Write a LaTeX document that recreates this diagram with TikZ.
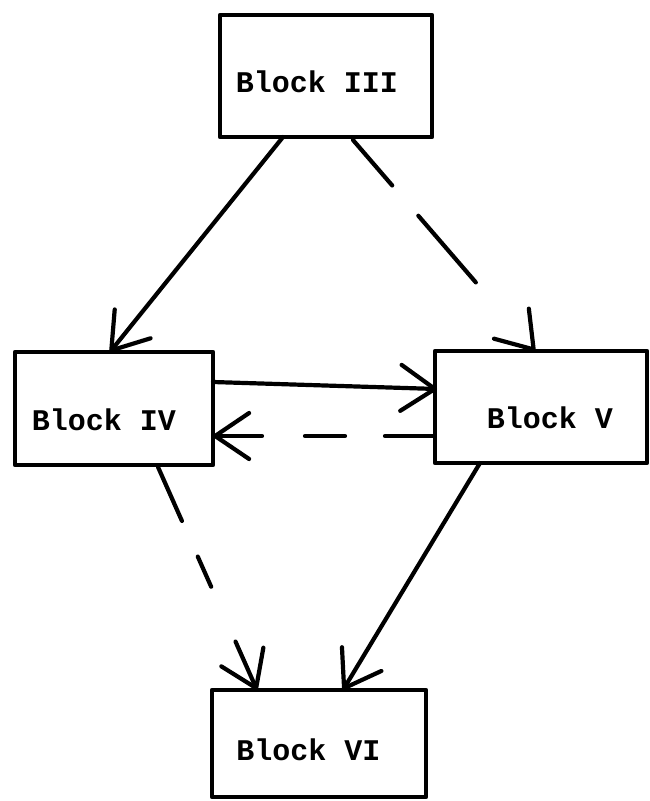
\documentclass[tikz,border=0pt]{standalone}
\usepackage{fontspec}
\setmainfont{Liberation Mono}
\usetikzlibrary{arrows.meta,calc}
\begin{document}
\begin{tikzpicture}[x=1pt,y=-1pt,
  blockbox/.style={draw,line width=4.4pt,rectangle,inner sep=0pt,outer sep=0pt,line join=round},
  blocklabel/.style={inner sep=0pt,font=\fontsize{30}{30}\selectfont\bfseries},
  conn/.style={line width=4.2pt,line cap=round,line join=round,
    -{Straight Barb[length=34pt,width=46pt,line cap=round,line join=round]}}
]
\useasboundingbox (0,0) rectangle (649,801);
% boxes
\node[blockbox,minimum width=212pt,minimum height=122pt] (III) at (326,76) {};
\node[blockbox,minimum width=198pt,minimum height=113pt] (IV) at (114,408.5) {};
\node[blockbox,minimum width=212pt,minimum height=112pt] (V) at (541,407) {};
\node[blockbox,minimum width=214pt,minimum height=107pt] (VI) at (319,743.5) {};
% labels
\node[blocklabel] (tIII) at (317,82) {Block III};
\node[blocklabel] (tIV) at (104,420) {Block IV};
\node[blocklabel] (tV) at (550,418) {Block V};
\node[blocklabel] (tVI) at (308.5,750) {Block VI};
% connectors
\draw[conn] ($(III.south west)+(63,0)$) -- ($(IV.north west)+(95,0)$);
\draw[conn,dash pattern=on 60pt off 40pt on 88pt off 300pt] ($(III.south west)+(133,3)$) -- ($(V.north west)+(100,0)$);
\draw[conn] ($(IV.north east)+(0,30)$) -- ($(V.north west)+(2,38)$);
\draw[conn,dash pattern=on 48pt off 40pt on 40pt off 43pt on 200pt] ($(V.north west)+(-2,85)$) -- ($(IV.north east)+(0,84)$);
\draw[conn,dash pattern=on 59pt off 39pt on 33pt off 60pt on 200pt] ($(IV.south west)+(143,2)$) -- ($(VI.north west)+(45,0)$);
\draw[conn] ($(V.south west)+(45,0)$) -- ($(VI.north west)+(131,0)$);
\end{tikzpicture}
\end{document}
